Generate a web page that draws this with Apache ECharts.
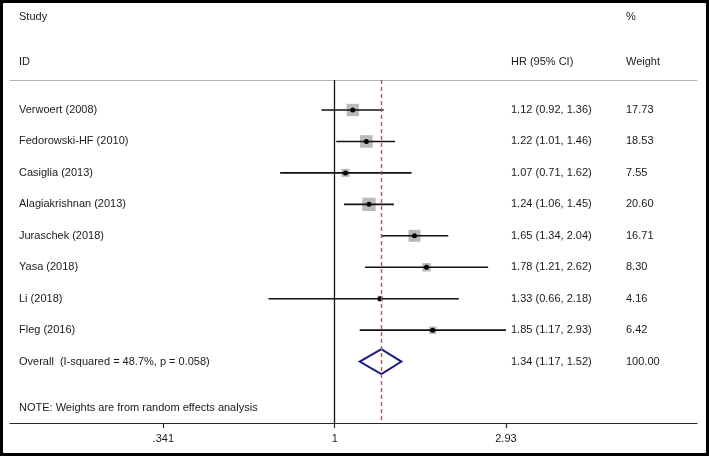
<!DOCTYPE html>
<html><head><meta charset="utf-8">
<script src="https://cdn.jsdelivr.net/npm/echarts@6/dist/echarts.min.js"></script>
<style>html,body{margin:0;padding:0;background:#fff}#c{width:709px;height:456px}</style>
</head><body><div id="c"></div>
<script>
const studies = ['Verwoert (2008)', 'Fedorowski-HF (2010)', 'Casiglia (2013)', 'Alagiakrishnan (2013)', 'Juraschek (2018)', 'Yasa (2018)', 'Li (2018)', 'Fleg (2016)'];
const hr     = [1.12, 1.22, 1.07, 1.24, 1.65, 1.78, 1.33, 1.85];
const lower  = [0.92, 1.01, 0.71, 1.06, 1.34, 1.21, 0.66, 1.17];
const upper  = [1.36, 1.46, 1.62, 1.45, 2.04, 2.62, 2.18, 2.93];
const weight = [17.73, 18.53, 7.55, 20.60, 16.71, 8.30, 4.16, 6.42];
const overallLabel = 'Overall  (I-squared = 48.7%, p = 0.058)';
const overallHR = 1.34, overallLower = 1.17, overallUpper = 1.52, overallWeight = 100.00;
const tickValues = [0.341, 1, 2.93];
const tickLabels = ['.341', '1', '2.93'];

const FONT = '11px "Liberation Sans", Arial, sans-serif';
const TXT = '#1a1a1a';
const fmt = v => v.toFixed(2);
const ciText = (h, l, u) => fmt(h) + ' (' + fmt(l) + ', ' + fmt(u) + ')';

const rowNames = studies.concat([overallLabel]);
const rowCI = studies.map((s, i) => ciText(hr[i], lower[i], upper[i])).concat([ciText(overallHR, overallLower, overallUpper)]);
const rowW = weight.map(fmt).concat([fmt(overallWeight)]);

const studyData = studies.map((s, i) => [Math.log(lower[i]), Math.log(upper[i]), Math.log(hr[i]), i, weight[i]]);
const overallRow = studies.length;
const overallData = [[Math.log(overallLower), Math.log(overallUpper), Math.log(overallHR), overallRow, overallWeight]];

function rowTexts(row, y) {
  return [
    {type:'text', x:19, y:y, style:{text:rowNames[row], font:FONT, fill:TXT, align:'left', verticalAlign:'middle'}},
    {type:'text', x:511, y:y, style:{text:rowCI[row], font:FONT, fill:TXT, align:'left', verticalAlign:'middle'}},
    {type:'text', x:626, y:y, style:{text:rowW[row], font:FONT, fill:TXT, align:'left', verticalAlign:'middle'}}
  ];
}

const chart = echarts.init(document.getElementById('c'), null, {renderer:'canvas'});
const xMin = -2.0383, xMax = 2.2743;
chart.setOption({
  animation:false,
  grid:{left:10, right:12, top:80, bottom:33},
  xAxis:[{
    type:'value', min:xMin, max:xMax, position:'bottom',
    splitLine:{show:false},
    axisLine:{show:true, onZero:false, lineStyle:{color:'#2a2a2a', width:1.2}},
    axisTick:{show:true, length:5, lineStyle:{color:'#2a2a2a', width:1.2}, customValues: tickValues.map(Math.log)},
    axisLabel:{show:true, margin:10, color:TXT, fontSize:11, fontFamily:'"Liberation Sans", Arial, sans-serif',
      customValues: tickValues.map(Math.log),
      formatter: v => { let best = 0; tickValues.forEach((t, i) => { if (Math.abs(Math.log(t) - v) < Math.abs(Math.log(tickValues[best]) - v)) best = i; }); return tickLabels[best]; }}
  },{
    type:'value', min:xMin, max:xMax, position:'top',
    splitLine:{show:false}, axisTick:{show:false}, axisLabel:{show:false},
    axisLine:{show:true, onZero:false, lineStyle:{color:'#b5b5b5', width:1}}
  }],
  yAxis:{type:'value', inverse:true, min:-0.954, max:9.952, show:false},
  graphic:[
    {type:'text', x:19, y:17, style:{text:'Study', font:FONT, fill:TXT, verticalAlign:'middle'}},
    {type:'text', x:19, y:62, style:{text:'ID', font:FONT, fill:TXT, verticalAlign:'middle'}},
    {type:'text', x:511, y:62, style:{text:'HR (95% CI)', font:FONT, fill:TXT, verticalAlign:'middle'}},
    {type:'text', x:626, y:17, style:{text:'%', font:FONT, fill:TXT, verticalAlign:'middle'}},
    {type:'text', x:626, y:62, style:{text:'Weight', font:FONT, fill:TXT, verticalAlign:'middle'}},
    {type:'text', x:19, y:408, style:{text:'NOTE: Weights are from random effects analysis', font:FONT, fill:TXT, verticalAlign:'middle'}},
    {type:'rect', shape:{x:0, y:0, width:709, height:456, r:4}, style:{fill:'none', stroke:'#000', lineWidth:6}, z:100}
  ],
  series:[
    {
      type:'custom', clip:false, data:studyData, z:3,
      renderItem:(params, api) => {
        const lo = api.coord([api.value(0), api.value(3)]);
        const hi = api.coord([api.value(1), api.value(3)]);
        const c = api.coord([api.value(2), api.value(3)]);
        const s = Math.sqrt(api.value(4)) * 2.93;
        return {type:'group', children:[
          {type:'rect', shape:{x:c[0]-s/2, y:c[1]-s/2, width:s, height:s}, style:{fill:'#bababa'}},
          {type:'line', shape:{x1:lo[0], y1:lo[1], x2:hi[0], y2:hi[1]}, style:{stroke:'#111', lineWidth:1.6}},
          {type:'circle', shape:{cx:c[0], cy:c[1], r:2.5}, style:{fill:'#000'}}
        ].concat(rowTexts(api.value(3), c[1]))};
      },
      markLine:{
        silent:true, symbol:'none', label:{show:false},
        data:[
          {xAxis:0, lineStyle:{color:'#151515', type:'solid', width:1.3}},
          {xAxis:Math.log(overallHR), lineStyle:{color:'#c44a5c', type:[4,3], width:1.4}}
        ]
      }
    },
    {
      type:'custom', clip:false, data:overallData, z:4,
      renderItem:(params, api) => {
        const lo = api.coord([api.value(0), api.value(3)]);
        const hi = api.coord([api.value(1), api.value(3)]);
        const c = api.coord([api.value(2), api.value(3)]);
        const h = 12.5;
        return {type:'group', children:[
          {type:'polygon', shape:{points:[[lo[0], c[1]], [c[0], c[1]-h], [hi[0], c[1]], [c[0], c[1]+h]]},
            style:{fill:'none', stroke:'#1a1a85', lineWidth:2}}
        ].concat(rowTexts(api.value(3), c[1]))};
      }
    }
  ]
});
</script></body></html>
